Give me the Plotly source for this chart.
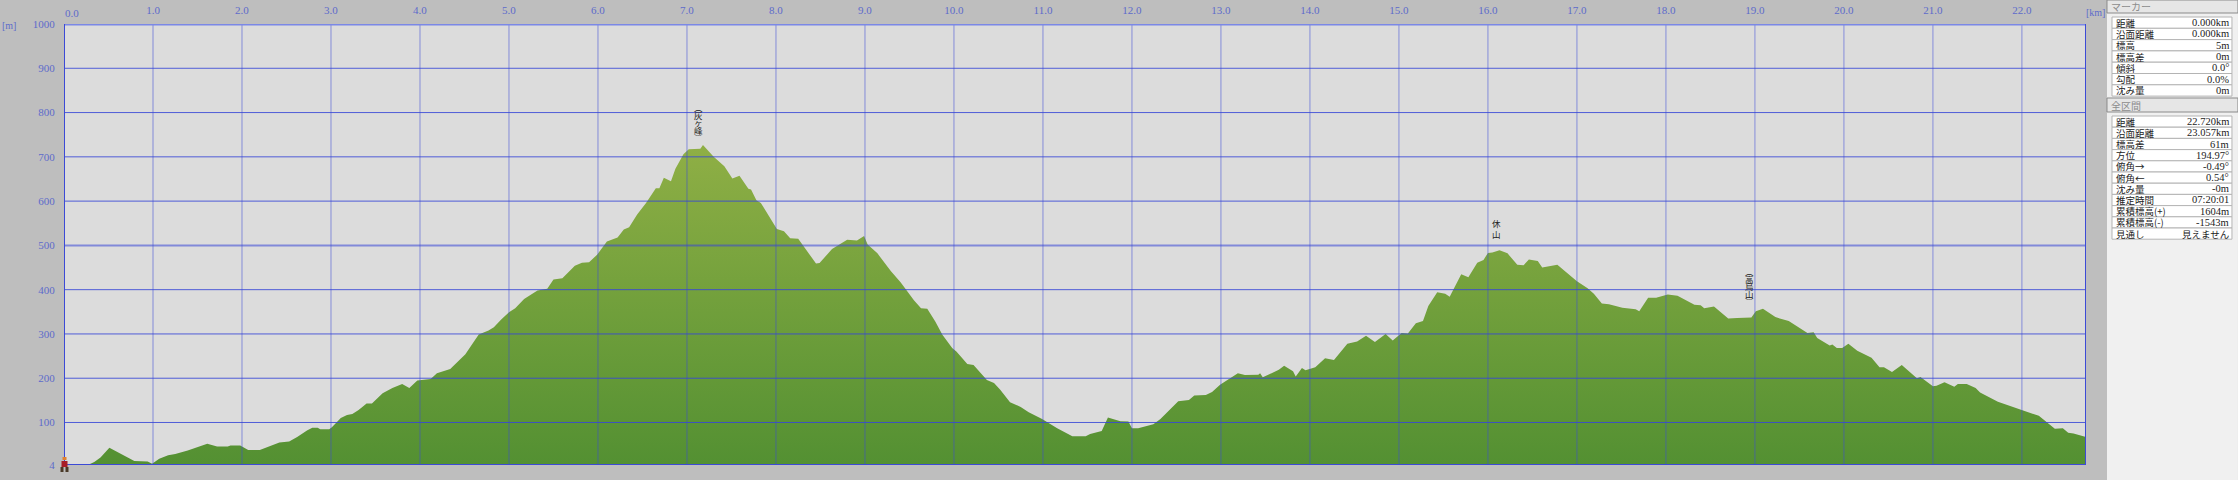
import plotly.graph_objects as go

# elevation profile
dist_km = [0, .28, .34, .41, .51, .67, .79, .94, .99, 1.07, 1.17, 1.25, 1.39, 1.61, 1.72, 1.84, 1.87, 1.98, 2.07, 2.2,
           2.42, 2.53, 2.62, 2.73, 2.79, 2.85, 2.88, 2.98, 3.01, 3.11, 3.18, 3.24, 3.31, 3.40, 3.46, 3.58, 3.69, 3.80, 3.88, 3.97,
           4.12, 4.19, 4.34, 4.51, 4.66, 4.77, 4.83, 4.91, 5.0, 5.07, 5.17, 5.32, 5.43, 5.5, 5.6, 5.74, 5.82, 5.9, 5.99,
           6.1, 6.22, 6.29, 6.35, 6.44, 6.54, 6.65, 6.69, 6.74, 6.82, 6.87, 6.96, 7.02, 7.15, 7.18, 7.3, 7.42, 7.51, 7.59, 7.69, 7.72, 7.78, 7.83,
           8.01, 8.09, 8.16, 8.25, 8.45, 8.49, 8.63, 8.8, 8.91, 8.99, 9.03, 9.14, 9.29, 9.4, 9.55, 9.63, 9.7, 9.79, 9.87, 9.98,
           10.03, 10.15, 10.22, 10.37, 10.45, 10.52, 10.63, 10.75, 10.84, 10.99, 11.16, 11.33, 11.48, 11.53, 11.66, 11.73, 11.87, 11.96,
           12.0, 12.07, 12.24, 12.32, 12.43, 12.52, 12.64, 12.7, 12.83, 12.9, 12.99, 13.19, 13.27, 13.42, 13.44, 13.47, 13.65, 13.71, 13.81, 13.84, 13.91, 13.95,
           14.06, 14.17, 14.27, 14.42, 14.53, 14.63, 14.73, 14.85, 14.93, 15.03, 15.1, 15.19, 15.27, 15.33, 15.43, 15.52, 15.57, 15.7, 15.78, 15.88, 15.95,
           16.0, 16.05, 16.13, 16.22, 16.33, 16.40, 16.46, 16.56, 16.61, 16.78, 16.86, 17.0, 17.12, 17.19, 17.28, 17.36, 17.51, 17.66, 17.7, 17.8, 17.89,
           18.02, 18.13, 18.24, 18.32, 18.39, 18.43, 18.54, 18.7, 18.8, 18.96, 19.01, 19.09, 19.23, 19.38, 19.59, 19.66, 19.7, 19.84, 19.87, 19.92, 19.98,
           20.05, 20.15, 20.31, 20.4, 20.45, 20.54, 20.65, 20.82, 20.86, 21.0, 21.04, 21.13, 21.24, 21.28, 21.38, 21.48, 21.53, 21.73, 22.0, 22.19, 22.37, 22.46, 22.52, 22.58, 22.72]
elev_m = [4, 5, 11, 21, 43, 25, 13, 12, 7, 18, 26, 29, 37, 52, 46, 46, 48, 48, 38, 38,
          55, 57, 67, 82, 88, 88, 85, 85, 89, 110, 117, 119, 128, 143, 143, 166, 178, 187, 178, 195,
          198, 211, 221, 254, 299, 308, 315, 332, 349, 358, 379, 398, 402, 423, 426, 454, 461, 462, 479,
          509, 518, 536, 541, 570, 596, 629, 629, 653, 645, 673, 706, 717, 718, 727, 700, 679, 651, 657, 628, 626, 602, 596,
          537, 532, 516, 515, 459, 460, 492, 513, 511, 521, 502, 482, 442, 417, 376, 358, 357, 328, 298, 268,
          260, 232, 230, 196, 189, 174, 146, 135, 123, 108, 87, 69, 69, 74, 81, 111, 103, 102,
          87, 87, 96, 108, 131, 148, 151, 161, 162, 169, 185, 211, 207, 208, 211, 202, 219, 228, 216, 204, 223, 218,
          225, 245, 241, 278, 283, 296, 282, 300, 285, 302, 301, 324, 329, 363, 394, 391, 384, 435, 428, 461, 467,
          483, 484, 489, 482, 456, 455, 468, 465, 450, 456, 442, 419, 403, 391, 369, 367, 359, 356, 351, 382, 382,
          389, 386, 374, 366, 365, 358, 362, 335, 336, 337, 351, 357, 338, 329, 302, 304, 291, 274, 276, 268, 268,
          278, 262, 246, 225, 225, 214, 230, 200, 203, 182, 183, 191, 181, 187, 187, 178, 168, 147, 129, 115, 86, 87, 77, 75, 67]

km_ticks = list(range(1, 23))
m_ticks = [4, 100, 200, 300, 400, 500, 600, 700, 800, 900, 1000]

peak_km = [7.13, 16.1, 18.94]
peak_m = [812, 550, 442]
peak_chars = [["︵", "灰", "ヶ", "峰", "︶"], ["休", "山"], ["︵", "高", "烏", "山", "︶"]]

marker_labels = ["距離", "沿面距離", "標高", "標高差", "傾斜", "勾配", "沈み量"]
marker_values = ["0.000km", "0.000km", "5m", "0m", "0.0°", "0.0%", "0m"]
total_labels = ["距離", "沿面距離", "標高差", "方位", "俯角→", "俯角←", "沈み量", "推定時間", "累積標高(+)", "累積標高(-)", "見通し"]
total_values = ["22.720km", "23.057km", "61m", "194.97°", "-0.49°", "0.54°", "-0m", "07:20:01", "1604m", "-1543m", "見えません"]

W, H = 2238, 480
LEFT, RIGHT, TOP, BOTTOM = 63.5, 2086, 24, 465
BLUE = "#5D6BCB"
JP = "Noto Sans CJK JP"
NUM = "Liberation Serif"


# paper coordinates are relative to the plot area, so convert from page pixels
def px(x):
    return (x - LEFT) / (RIGHT - LEFT)


def py(y):
    return (BOTTOM - y) / (BOTTOM - TOP)


def box(x0, y0, x1, y1, fill, line=None, width=1):
    return dict(type="rect", xref="paper", yref="paper", x0=px(x0), x1=px(x1), y0=py(y0), y1=py(y1),
                fillcolor=fill, line=dict(color=line or fill, width=width if line else 0), layer="above")


fig = go.Figure()
fig.add_trace(go.Scatter(x=dist_km, y=elev_m, mode="lines", line=dict(width=0), fill="tozeroy",
                         fillgradient=dict(type="vertical", colorscale=[[0, "#539032"], [1, "#8FAF45"]]),
                         hoverinfo="skip", showlegend=False))

shapes = []
# grid sits on top of the fill in the original
for k in km_ticks:
    shapes.append(dict(type="line", x0=k, x1=k, y0=4, y1=1000, layer="above",
                       line=dict(color="rgba(60,75,215,0.55)", width=1)))
for m in m_ticks[1:-1]:
    shapes.append(dict(type="line", x0=0, x1=22.72, y0=m, y1=m, layer="above",
                       line=dict(color="rgba(55,70,215,0.55)" if m == 500 else "rgba(55,70,215,0.85)",
                                 width=2 if m == 500 else 1)))
shapes.append(dict(type="line", x0=0, x1=22.72, y0=1000, y1=1000, layer="above", line=dict(color="#7B88E6", width=3)))
shapes.append(dict(type="line", x0=0, x1=22.72, y0=4, y1=4, layer="above", line=dict(color="#3C4AD6", width=2)))
shapes.append(dict(type="line", x0=0, x1=0, y0=4, y1=1000, layer="above", line=dict(color="#3C4AD6", width=2)))
shapes.append(dict(type="line", x0=22.72, x1=22.72, y0=4, y1=1000, layer="above", line=dict(color="#3C4AD6", width=2)))

# little hiker at the marker position
shapes.append(box(61, 461, 67, 467, "#A81E28"))
shapes.append(box(62, 457, 66, 460, "#E08030"))
shapes.append(box(60, 467, 63, 472, "#4A3A28"))
shapes.append(box(65, 467, 68, 472, "#4A3A28"))

# side panel
shapes.append(box(2107, 0, W, H, "#F0F0F0"))
shapes.append(box(2107, 0, W, 13, "#E6E6E6", "#8A8A8A"))
shapes.append(box(2107, 98, W, 112, "#E6E6E6", "#8A8A8A"))

ann = []
for xp, yp, txt in [(8, 25, "[m]"), (2096, 13, "[km]")]:
    ann.append(dict(xref="paper", yref="paper", x=px(xp), y=py(yp), text=txt, showarrow=False,
                    font=dict(family=NUM, size=10, color=BLUE)))
ann.append(dict(xref="paper", yref="paper", x=px(72), y=py(13), text="0.0", showarrow=False,
                font=dict(family=NUM, size=11, color=BLUE)))

for k, m, chars in zip(peak_km, peak_m, peak_chars):
    step = 11 if len(chars) == 2 else 7.5
    for i, c in enumerate(chars):
        ann.append(dict(x=k, y=m, text=c, showarrow=False, yshift=-i * step, font=dict(family=JP, size=8.5, color="#222222")))


def table(top, row_h, labels, values):
    for i, (a, b) in enumerate(zip(labels, values)):
        y0 = top + i * row_h
        shapes.append(box(2112, y0, 2232, y0 + row_h, "#FFFFFF", "#B4B4B4"))
        ann.append(dict(xref="paper", yref="paper", x=px(2114), y=py(y0 + row_h / 2), text=a, showarrow=False, xanchor="left",
                        font=dict(family=JP, size=9.5, color="#222222")))
        ann.append(dict(xref="paper", yref="paper", x=px(2231), y=py(y0 + row_h / 2), text=b, showarrow=False, xanchor="right",
                        font=dict(family=JP if b == "見えません" else NUM, size=9.5 if b == "見えません" else 10.5, color="#222222")))


table(17, 11.3, marker_labels, marker_values)
table(116, 11.2, total_labels, total_values)

for yp, txt in [(6.5, "マーカー"), (105.5, "全区間")]:
    ann.append(dict(xref="paper", yref="paper", x=px(2109), y=py(yp), text=txt, showarrow=False, xanchor="left",
                    font=dict(family=JP, size=10, color="#8C8C8C")))

# 'auto' anchors jump around with position on the paper
for a in ann:
    a.setdefault("xanchor", "center")
    a.setdefault("yanchor", "middle")

fig.update_layout(
    width=W, height=H, autosize=False,
    margin=dict(l=LEFT, r=W - RIGHT, t=TOP, b=H - BOTTOM, pad=0),
    paper_bgcolor="#BEBEBE", plot_bgcolor="#DCDCDC",
    shapes=shapes, annotations=ann, showlegend=False,
)
fig.update_xaxes(range=[0, 22.72], side="top", showgrid=False, zeroline=False, showline=False, automargin=False,
                 tickvals=km_ticks, ticktext=[f"{k}.0" for k in km_ticks],
                 ticks="outside", ticklen=5, tickcolor="rgba(0,0,0,0)",
                 tickfont=dict(family=NUM, size=11, color=BLUE))
fig.update_yaxes(range=[4, 1000], showgrid=False, zeroline=False, showline=False, automargin=False,
                 tickvals=m_ticks, ticktext=[str(m) for m in m_ticks],
                 ticks="outside", ticklen=6, tickcolor="rgba(0,0,0,0)",
                 tickfont=dict(family=NUM, size=11, color=BLUE))

fig.write_html("out.html", config={"displayModeBar": False}, post_script="document.body.style.margin='0';")
